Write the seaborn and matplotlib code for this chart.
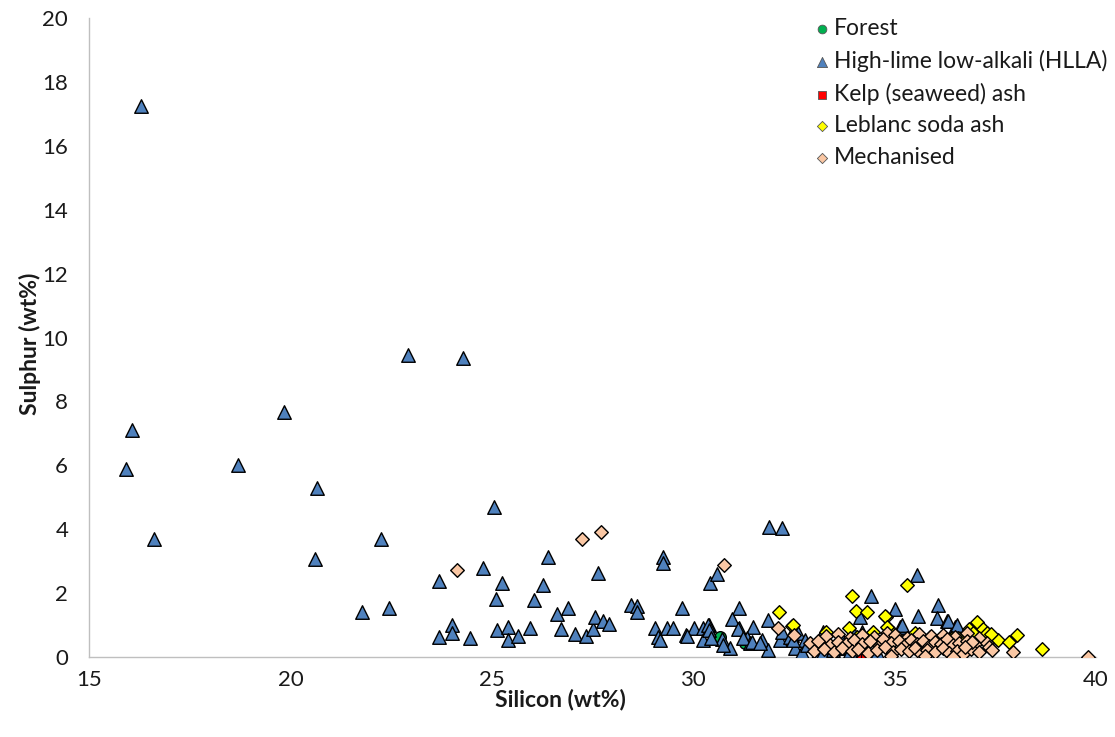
import matplotlib
matplotlib.use("Agg")
import matplotlib.pyplot as plt
import seaborn as sns
import pandas as pd

# ---- data: silicon vs sulphur (wt%) by glass type ----
forest_si = [30.67, 31.29]
forest_s = [0.63, 0.44]

hlla_si = [16.29, 16.07, 15.92, 16.61, 18.70, 19.84, 20.66, 20.61, 22.92, 24.28,
           22.25, 21.78, 22.45, 25.05, 23.69, 24.01, 24.01, 23.69, 24.46, 24.78,
           25.25, 25.10, 25.13, 25.40, 25.40, 25.65, 25.95, 26.05, 26.27, 26.40,
           26.62, 26.89, 26.72, 27.07, 27.34, 27.51, 27.56, 27.76, 27.91, 27.64,
           28.46, 28.60, 28.60, 29.25, 29.25, 29.72, 29.05, 29.13, 29.18, 29.35,
           29.50, 29.82, 30.02, 30.24, 30.39, 30.24, 30.71, 30.91, 30.42, 30.59,
           31.14, 30.96, 31.14, 31.48, 31.34, 31.41, 31.86, 31.88, 32.20, 31.71,
           31.86, 32.45, 29.85, 30.37, 30.39, 30.44, 30.74, 31.11, 31.24, 31.46,
           31.66, 32.15, 32.20, 32.40, 32.53, 32.60, 32.70, 32.78, 32.83, 33.07,
           33.10, 33.22, 32.48, 33.22, 33.64, 33.47, 33.60, 33.97, 34.19, 34.14,
           34.41, 35.01, 35.56, 35.58, 35.13, 36.08, 36.05, 36.30, 36.50, 35.18,
           34.56, 36.33, 36.55, 33.50, 33.70, 33.90, 34.00]
hlla_s = [17.25, 7.10, 5.88, 3.69, 6.00, 7.67, 5.29, 3.07, 9.45, 9.36,
          3.69, 1.41, 1.53, 4.69, 2.38, 1.00, 0.75, 0.63, 0.59, 2.79,
          2.32, 1.82, 0.85, 0.94, 0.53, 0.66, 0.91, 1.78, 2.25, 3.13,
          1.35, 1.53, 0.88, 0.72, 0.66, 0.88, 1.25, 1.13, 1.03, 2.63,
          1.63, 1.60, 1.41, 3.13, 2.94, 1.53, 0.91, 0.63, 0.53, 0.91,
          0.91, 0.69, 0.91, 0.91, 1.00, 0.53, 0.56, 0.28, 2.32, 2.60,
          1.53, 1.19, 0.91, 0.94, 0.59, 0.44, 1.16, 4.07, 4.04, 0.53,
          0.22, 0.69, 0.66, 1.00, 0.85, 0.59, 0.38, 0.88, 0.59, 0.47,
          0.44, 0.53, 0.78, 0.63, 0.28, 0.75, 0.16, 0.53, 0.38, 0.44,
          0.16, 0.16, 0.53, 0.78, 0.31, 0.22, 0.28, 0.78, 0.78, 1.25,
          1.91, 1.50, 2.57, 1.28, 0.94, 1.63, 1.22, 1.13, 0.94, 1.00,
          0.16, 1.13, 1.00, 0.30, 0.55, 0.20, 0.45]

kelp_si = [34.20, 34.30, 36.50, 36.60]
kelp_s = [0.05, 0.10, 0.05, 0.12]

leblanc_si = [32.13, 32.45, 32.48, 33.30, 33.94, 35.31, 34.04, 34.31, 34.79, 33.87,
              34.46, 34.84, 34.06, 36.60, 36.85, 37.05, 36.85, 37.19, 37.24, 37.57,
              37.84, 38.04, 38.66, 37.02, 34.76, 34.96, 35.51, 35.88, 36.37, 36.57,
              36.43, 34.81, 37.30, 36.95, 37.40]
leblanc_s = [1.41, 0.97, 1.00, 0.78, 1.91, 2.25, 1.44, 1.41, 1.25, 0.91,
             0.78, 0.91, 0.63, 0.56, 0.85, 1.09, 0.88, 0.88, 0.60, 0.53,
             0.47, 0.69, 0.25, 0.66, 1.28, 0.75, 0.75, 0.63, 0.53, 0.59,
             0.59, 0.94, 0.75, 0.75, 0.72]

mech_si = [24.14, 27.24, 27.71, 30.76, 32.10, 32.50,
           33.30, 33.60, 33.90, 34.20, 34.50, 34.80, 35.00, 35.30, 35.60, 35.90,
           36.20, 36.50, 36.80, 37.10,
           32.90, 33.10, 33.40, 33.60, 33.80, 34.00, 34.20, 34.40, 34.60, 34.70,
           34.90, 35.10, 35.25, 35.40, 35.55, 35.70, 35.85, 36.00, 36.15, 36.30,
           36.45, 36.60, 36.80, 37.00, 37.30,
           33.00, 33.25, 33.50, 33.70, 33.95, 34.10, 34.35, 34.55, 34.75, 34.95,
           35.15, 35.35, 35.50, 35.65, 35.80, 36.00, 36.20, 36.35, 36.55, 36.70,
           36.90, 37.10, 37.35,
           34.90, 35.75, 36.45, 37.94, 37.42, 39.80, 36.92, 36.75]
mech_s = [2.72, 3.69, 3.91, 2.88, 0.91, 0.69,
          0.65, 0.72, 0.60, 0.70, 0.62, 0.75, 0.68, 0.60, 0.72, 0.66,
          0.70, 0.62, 0.75, 0.60,
          0.45, 0.50, 0.38, 0.48, 0.42, 0.52, 0.40, 0.50, 0.36, 0.55,
          0.44, 0.50, 0.38, 0.52, 0.42, 0.50, 0.36, 0.48, 0.40, 0.55,
          0.38, 0.45, 0.50, 0.40, 0.45,
          0.20, 0.25, 0.15, 0.28, 0.18, 0.25, 0.12, 0.22, 0.30, 0.15,
          0.25, 0.18, 0.28, 0.10, 0.22, 0.15, 0.28, 0.12, 0.20, 0.10,
          0.25, 0.15, 0.30,
          0.02, 0.03, 0.00, 0.16, 0.22, 0.00, 0.47, 0.31]

groups = ["Forest", "High-lime low-alkali (HLLA)", "Kelp (seaweed) ash",
          "Leblanc soda ash", "Mechanised"]
xs = [forest_si, hlla_si, kelp_si, leblanc_si, mech_si]
ys = [forest_s, hlla_s, kelp_s, leblanc_s, mech_s]

df = pd.concat(
    [pd.DataFrame({"Silicon": x, "Sulphur": y, "Type": g}) for g, x, y in zip(groups, xs, ys)],
    ignore_index=True,
)

colors = {groups[0]: "#00B050", groups[1]: "#4F81BD", groups[2]: "#FF0000",
          groups[3]: "#FFFF00", groups[4]: "#FAC7A4"}
markers = {groups[0]: "o", groups[1]: "^", groups[2]: "s",
           groups[3]: "D", groups[4]: "D"}
sizes = {groups[0]: 70, groups[1]: 95, groups[2]: 60, groups[3]: 48, groups[4]: 48}

sns.set_theme(style="white")
plt.rcParams["font.family"] = ["Lato", "DejaVu Sans"]

fig = plt.figure(figsize=(11.15, 7.37), dpi=100)
ax = fig.add_axes([0.0798, 0.1085, 0.9032, 0.8671])

for g in groups:
    sub = df[df["Type"] == g]
    sns.scatterplot(data=sub, x="Silicon", y="Sulphur", ax=ax, color=colors[g],
                    marker=markers[g], s=sizes[g], edgecolor="black",
                    linewidth=1.0, label=g, zorder=3)

ax.set_xlim(15, 40)
ax.set_ylim(0, 20)
ax.set_xticks(range(15, 41, 5))
ax.set_yticks(range(0, 21, 2))

for side in ("top", "right"):
    ax.spines[side].set_visible(False)
for side in ("left", "bottom"):
    ax.spines[side].set_color("#BFBFBF")
    ax.spines[side].set_linewidth(1.0)

ax.tick_params(axis="both", which="major", direction="out", length=5, width=1,
               color="#BFBFBF", labelsize=16, labelcolor="#1a1a1a")
ax.tick_params(axis="x", pad=4)
ax.tick_params(axis="y", pad=10)

ax.set_xlabel("Silicon (wt%)", fontsize=16.5, fontweight="bold", color="#1a1a1a")
ax.set_ylabel("Sulphur (wt%)", fontsize=16.5, fontweight="bold", color="#1a1a1a")
ax.xaxis.set_label_coords(0.468, -0.049)
ax.yaxis.set_label_coords(-0.048, 0.49)

leg = ax.legend(loc="upper right", bbox_to_anchor=(0.9928, 0.9756),
                bbox_transform=fig.transFigure, frameon=False,
                fontsize=16.5, handlelength=0.8, handletextpad=0.1,
                labelspacing=0.47, markerscale=0.75, borderpad=0,
                borderaxespad=0)
for t in leg.get_texts():
    t.set_color("#1a1a1a")
for h in leg.legend_handles:
    h.set_linewidth(0.6)
    h.set_edgecolor("#555555")

fig.savefig("out.png", dpi=100)
